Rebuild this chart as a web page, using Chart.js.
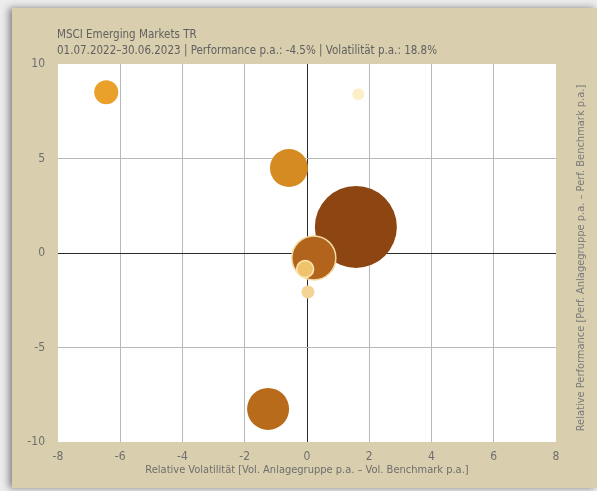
<!DOCTYPE html>
<html>
<head>
<meta charset="utf-8">
<script src="https://cdn.jsdelivr.net/npm/chart.js@4.4.0/dist/chart.umd.min.js"></script>
<style>
    html, body { margin: 0; padding: 0; background: #ececec; }
    .panel {
        position: absolute; left: 12px; top: 8px; width: 585px; height: 480px;
        background: #d9cfae;
        box-shadow: -3px 0 7px rgba(0, 0, 0, 0.45);
    }
    #scatter { position: absolute; left: 0; top: 0; }
</style>
</head>
<body>
<div class="panel"></div>
<canvas id="scatter" width="597" height="491"></canvas>
<script>
/**
 * Risk/return bubble chart - relative volatility vs relative performance.
 */

const titleLines = [
    'MSCI Emerging Markets TR',
    '01.07.2022–30.06.2023 | Performance p.a.: -4.5% | Volatilität p.a.: 18.8%'
];
const xTitle = 'Relative Volatilität [Vol. Anlagegruppe p.a. – Vol. Benchmark p.a.]';
const yTitle = 'Relative Performance [Perf. Anlagegruppe p.a. – Perf. Benchmark p.a.]';

// One entry per investment group (draw order: later ones on top)
const relVolatility  = [-6.45, 1.65, -0.58, -1.25, 1.57, 0.22, -0.06, 0.03];
const relPerformance = [8.5, 8.4, 4.5, -8.25, 1.38, -0.26, -0.85, -2.06];
const groupSize      = [12, 6, 19, 21, 41, 22, 8.5, 6.5];

const xTicks = [-8, -6, -4, -2, 0, 2, 4, 6, 8];
const yTicks = [-10, -5, 0, 5, 10];

const fillColors   = ['#e9a12c', '#fbefc9', '#d68b22', '#b96b1c', '#8d4511', '#b2641c', '#f1c26c', '#f3d394'];
const borderColors = ['#e9a12c', '#fbefc9', '#d68b22', '#b96b1c', '#8d4511', '#f4dba2', '#fbe7b6', '#f3d394'];

const TEXT = '#6e6e6e';
const FONT = '"Liberation Sans Narrow", "DejaVu Sans Condensed", Arial, sans-serif';

/** Grid line colour: dark zero line, no line on the plot edges */
function gridColor(ctx, edges) {
    const v = ctx.tick.value;
    if (v === 0) return '#2a2a2a';
    if (edges.includes(v)) return 'rgba(0,0,0,0)';
    return '#b8b8b8';
}

// White plot area plus header and right-hand axis title
const decorations = {
    id: 'decorations',
    beforeDraw(chart) {
        const { ctx, chartArea: a } = chart;
        ctx.save();
        ctx.fillStyle = '#ffffff';
        ctx.fillRect(a.left, a.top, a.right - a.left, a.bottom - a.top);
        ctx.restore();
    },
    afterDraw(chart) {
        const { ctx, chartArea: a } = chart;
        ctx.save();
        ctx.fillStyle = '#606060';
        ctx.font = '11.5px ' + FONT;
        ctx.textBaseline = 'middle';
        ctx.textAlign = 'left';
        ctx.fillText(titleLines[0], a.left - 1, 35);
        ctx.fillText(titleLines[1], a.left - 1, 51);

        ctx.fillStyle = '#7a7a7a';
        ctx.font = '11px ' + FONT;
        ctx.translate(581, (a.top + a.bottom) / 2 + 5);
        ctx.rotate(-Math.PI / 2);
        ctx.textAlign = 'center';
        ctx.fillText(yTitle, 0, 0);
        ctx.restore();
    }
};

const points = relVolatility.map((x, i) => ({ x: x, y: relPerformance[i], r: groupSize[i] }));

new Chart(document.getElementById('scatter').getContext('2d'), {
    type: 'bubble',
    data: {
        datasets: [{
            data: points,
            backgroundColor: fillColors,
            borderColor: borderColors,
            borderWidth: [0, 0, 0, 0, 0, 1.5, 1.5, 0],
            hoverRadius: 0
        }]
    },
    options: {
        responsive: false,
        animation: false,
        events: [],
        layout: { padding: { left: 18, right: 39, top: 64, bottom: 9 } },
        plugins: {
            legend: { display: false },
            tooltip: { enabled: false }
        },
        scales: {
            x: {
                type: 'linear',
                min: -8,
                max: 8,
                afterBuildTicks: scale => { scale.ticks = xTicks.map(v => ({ value: v })); },
                afterFit: scale => { scale.height = 40; },
                ticks: { color: TEXT, font: { family: FONT, size: 12 }, padding: 8 },
                grid: { color: ctx => gridColor(ctx, [-8, 8]), drawTicks: false },
                border: { display: false },
                title: {
                    display: true,
                    text: xTitle,
                    color: TEXT,
                    font: { family: FONT, size: 11 },
                    padding: { top: 0, bottom: 5 }
                }
            },
            y: {
                type: 'linear',
                min: -10,
                max: 10,
                afterBuildTicks: scale => { scale.ticks = yTicks.map(v => ({ value: v })); },
                afterFit: scale => { scale.width = 40; },
                ticks: { color: TEXT, font: { family: FONT, size: 12 }, padding: 13 },
                grid: { color: ctx => gridColor(ctx, [-10, 10]), drawTicks: false },
                border: { display: false }
            }
        }
    },
    plugins: [decorations]
});
</script>
</body>
</html>
